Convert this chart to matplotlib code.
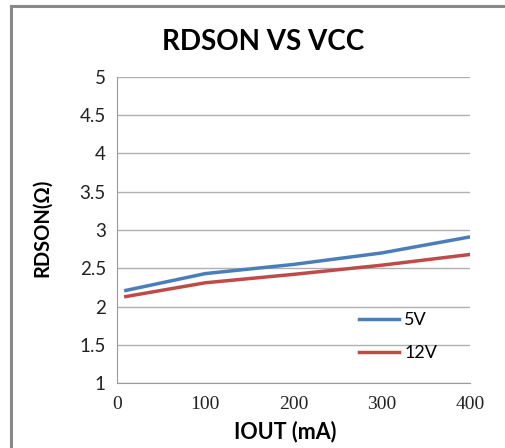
import matplotlib.pyplot as plt
from matplotlib.lines import Line2D

# data
iout = [10, 100, 200, 300, 400]
rdson_5v = [2.21, 2.43, 2.55, 2.70, 2.91]
rdson_12v = [2.13, 2.31, 2.42, 2.54, 2.68]
series_labels = ['5V', '12V']
y_ticks = [1, 1.5, 2, 2.5, 3, 3.5, 4, 4.5, 5]
x_ticks = [0, 100, 200, 300, 400]

W, H = 505, 448
fig = plt.figure(figsize=(W / 100, H / 100), dpi=100)
ax = fig.add_axes([117 / W, 1 - 383 / H, (470 - 117) / W, (383 - 77) / H])

ax.plot(iout, rdson_5v, color='#4a7ebb', lw=2.5, label=series_labels[0])
ax.plot(iout, rdson_12v, color='#be4b48', lw=2.5, label=series_labels[1])

ax.set_xlim(0, 400)
ax.set_ylim(1, 5)
ax.set_xticks(x_ticks)
ax.set_yticks(y_ticks)
ax.set_yticklabels([f'{t:g}' for t in y_ticks], family='Lato', fontsize=13.5, color='#222222')
ax.set_xticklabels([str(t) for t in x_ticks], family='Liberation Serif', fontsize=14, color='#222222')
ax.tick_params(length=0, pad=8)
ax.tick_params(axis='x', pad=9)
ax.grid(axis='y', color='#b0b0b0', lw=1)
ax.set_axisbelow(True)
for s in ['top', 'right']:
    ax.spines[s].set_visible(False)
for s in ['left', 'bottom']:
    ax.spines[s].set_color('#9a9a9a')

leg = ax.legend(loc='center left', bbox_to_anchor=(0.64, 0.152), frameon=False,
                prop={'family': 'Lato', 'size': 13}, handlelength=2.2,
                handletextpad=0.3, labelspacing=0.95)

fig.text(263 / W, 1 - 42 / H, 'RDSON VS VCC', ha='center', va='center',
         family='Lato', weight='bold', fontsize=20)
fig.text(42 / W, 1 - 228 / H, 'RDSON(Ω)', ha='center', va='center', rotation=90,
         family=['Lato', 'DejaVu Sans'], weight='bold', fontsize=14.5)
fig.text(285 / W, 1 - 432 / H, 'IOUT (mA)', ha='center', va='center',
         family='Lato', weight='bold', fontsize=15.5)

# outer chart border: only top and left edges fall inside the image
bx, by = 11 / W, 1 - 6 / H
fig.add_artist(Line2D([bx, 1.0], [by, by], transform=fig.transFigure, color='#898989', lw=2.2))
fig.add_artist(Line2D([bx, bx], [0.0, by], transform=fig.transFigure, color='#898989', lw=2.2))

fig.savefig('out.png', dpi=100)
